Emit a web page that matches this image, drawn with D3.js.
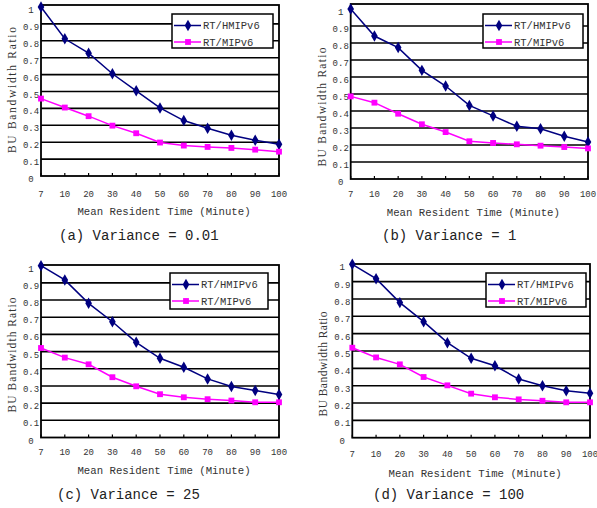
<!DOCTYPE html>
<html>
<head>
<meta charset="utf-8">
<script src="https://cdn.jsdelivr.net/npm/d3@7"></script>
<style>
  body { margin: 0; background: #fff; }
  svg { display: block; }
  .tick-lbl { font-family: "Liberation Mono", monospace; font-size: 9px; fill: #333; }
  .x-title { font-family: "Liberation Mono", monospace; font-size: 10.7px; fill: #333; }
  .y-title { font-family: "Liberation Serif", serif; font-size: 11.5px; fill: #333; }
  .caption { font-family: "Liberation Mono", monospace; font-size: 14px; fill: #222; }
  .leg-txt { font-family: "Liberation Mono", monospace; font-size: 10.5px; fill: #333; }
</style>
</head>
<body>
<div id="chart"></div>
<script>
// data
var categories = ["7", "10", "20", "30", "40", "50", "60", "70", "80", "90", "100"];
var yTicks = [0, 0.1, 0.2, 0.3, 0.4, 0.5, 0.6, 0.7, 0.8, 0.9, 1];
var seriesNames = ["RT/HMIPv6", "RT/MIPv6"];
var yTitle = "BU Bandwidth Ratio";
var xTitle = "Mean Resident Time (Minute)";
var captions = ["(a) Variance = 0.01", "(b) Variance = 1", "(c) Variance = 25", "(d) Variance = 100"];

var hmipA = [1.0, 0.812, 0.727, 0.605, 0.504, 0.403, 0.328, 0.283, 0.241, 0.211, 0.188];
var mipA  = [0.458, 0.405, 0.354, 0.298, 0.253, 0.198, 0.180, 0.172, 0.166, 0.156, 0.144];
var hmipB = [1.0, 0.841, 0.773, 0.639, 0.547, 0.433, 0.371, 0.310, 0.296, 0.251, 0.218];
var mipB  = [0.486, 0.449, 0.384, 0.322, 0.276, 0.222, 0.212, 0.204, 0.196, 0.188, 0.180];
var hmipC = [1.0, 0.917, 0.781, 0.674, 0.554, 0.461, 0.409, 0.341, 0.297, 0.273, 0.250];
var mipC  = [0.521, 0.465, 0.426, 0.351, 0.298, 0.252, 0.234, 0.223, 0.215, 0.205, 0.205];
var hmipD = [1.0, 0.917, 0.779, 0.669, 0.548, 0.458, 0.415, 0.338, 0.300, 0.271, 0.256];
var mipD  = [0.519, 0.463, 0.423, 0.350, 0.302, 0.254, 0.233, 0.221, 0.213, 0.204, 0.204];

var colors = ["#000080", "#ff00ff"];

// panel layout
var panels = [
  { hm: hmipA, mi: mipA, cap: captions[0], left: 41, right: 279, y0: 176, y1: 7, top: 5,
    yl: [12, 90, 126], xtY: 194, xtitY: 211, capX: 59, capY: 235, leg: [172, 14, 101, 34] },
  { hm: hmipB, mi: mipB, cap: captions[1], left: 350.7, right: 588, y0: 179, y1: 9, top: 4,
    yl: [322, 107, 119], xtY: 194, xtitY: 212, capX: 382, capY: 235, leg: [483, 14, 100, 34] },
  { hm: hmipC, mi: mipC, cap: captions[2], left: 41, right: 279, y0: 437.5, y1: 265.7, top: 265,
    yl: [12, 355, 115], xtY: 452, xtitY: 470, capX: 57, capY: 494, leg: [170, 273, 98, 36] },
  { hm: hmipD, mi: mipD, cap: captions[3], left: 352.3, right: 590, y0: 437.7, y1: 264.3, top: 264,
    yl: [323, 364, 105], xtY: 454, xtitY: 473, capX: 373, capY: 494, leg: [486, 273, 100, 34] }
];

var width = 597;
var height = 508;

var svg = d3.select("#chart")
  .append("svg")
  .attr("width", width)
  .attr("height", height);

var diamond = d3.symbol().type(d3.symbolDiamond).size(38);
var square = d3.symbol().type(d3.symbolSquare).size(34);

function drawPanel(p) {
  var g = svg.append("g");

  var x = d3.scalePoint().domain(categories).range([p.left, p.right]);
  var y = d3.scaleLinear().domain([0, 1]).range([p.y0, p.y1]);

  // gridlines
  g.selectAll(".grid")
    .data(yTicks.filter(function(v) { return v > 0 && v < 1; }))
    .enter()
    .append("line")
    .attr("x1", p.left)
    .attr("x2", p.right)
    .attr("y1", function(d) { return y(d); })
    .attr("y2", function(d) { return y(d); })
    .attr("stroke", "#000")
    .attr("stroke-width", 1.6);

  // frame
  g.append("rect")
    .attr("x", p.left)
    .attr("y", p.top)
    .attr("width", p.right - p.left)
    .attr("height", p.y0 - p.top)
    .attr("fill", "none")
    .attr("stroke", "#000")
    .attr("stroke-width", 1.8);

  // inner x ticks
  g.selectAll(".xt")
    .data(categories)
    .enter()
    .append("line")
    .attr("x1", function(d) { return x(d); })
    .attr("x2", function(d) { return x(d); })
    .attr("y1", p.y0)
    .attr("y2", p.y0 - 3)
    .attr("stroke", "#000")
    .attr("stroke-width", 1.2);

  // y tick labels
  g.selectAll(".yl")
    .data(yTicks)
    .enter()
    .append("text")
    .attr("class", "tick-lbl")
    .attr("x", p.left - 10)
    .attr("y", function(d) { return y(d) + 6; })
    .attr("text-anchor", "middle")
    .text(function(d) { return d3.format("")(d); });

  // x tick labels
  g.selectAll(".xl")
    .data(categories)
    .enter()
    .append("text")
    .attr("class", "tick-lbl")
    .attr("x", function(d) { return x(d); })
    .attr("y", p.xtY + 3)
    .attr("text-anchor", "middle")
    .text(function(d) { return d; });

  // axis titles
  g.append("text")
    .attr("class", "x-title")
    .attr("x", (p.left + p.right) / 2 + 4)
    .attr("y", p.xtitY + 4)
    .attr("text-anchor", "middle")
    .text(xTitle);

  g.append("text")
    .attr("class", "y-title")
    .attr("transform", "translate(" + (p.yl[0] + 4) + "," + p.yl[1] + ")rotate(-90)")
    .attr("text-anchor", "middle")
    .attr("textLength", p.yl[2])
    .attr("lengthAdjust", "spacing")
    .text(yTitle);

  // caption
  g.append("text")
    .attr("class", "caption")
    .attr("x", p.capX)
    .attr("y", p.capY + 5)
    .text(p.cap);

  // lines
  var line = d3.line()
    .x(function(d, i) { return x(categories[i]); })
    .y(function(d) { return y(d); });

  [p.hm, p.mi].forEach(function(vals, k) {
    g.append("path")
      .datum(vals)
      .attr("d", line)
      .attr("fill", "none")
      .attr("stroke", colors[k])
      .attr("stroke-width", 1.5);

    g.selectAll(".m" + k)
      .data(vals)
      .enter()
      .append("path")
      .attr("d", k === 0 ? diamond : square)
      .attr("transform", function(d, i) {
        return "translate(" + x(categories[i]) + "," + y(d) + ")";
      })
      .attr("fill", colors[k]);
  });

  // legend
  var L = p.leg;
  var lg = g.append("g").attr("transform", "translate(" + L[0] + "," + L[1] + ")");
  lg.append("rect")
    .attr("width", L[2])
    .attr("height", L[3])
    .attr("fill", "#fff")
    .attr("stroke", "#000")
    .attr("stroke-width", 1.5);

  seriesNames.forEach(function(name, k) {
    var ly = k === 0 ? 11.5 : 28;
    lg.append("line")
      .attr("x1", 2).attr("x2", 29)
      .attr("y1", ly).attr("y2", ly)
      .attr("stroke", colors[k])
      .attr("stroke-width", 1.5);
    lg.append("path")
      .attr("d", k === 0 ? diamond : square)
      .attr("transform", "translate(16," + ly + ")")
      .attr("fill", colors[k]);
    lg.append("text")
      .attr("class", "leg-txt")
      .attr("x", 31)
      .attr("y", ly + 3.5)
      .text(name);
  });
}

panels.forEach(drawPanel);
</script>
</body>
</html>
